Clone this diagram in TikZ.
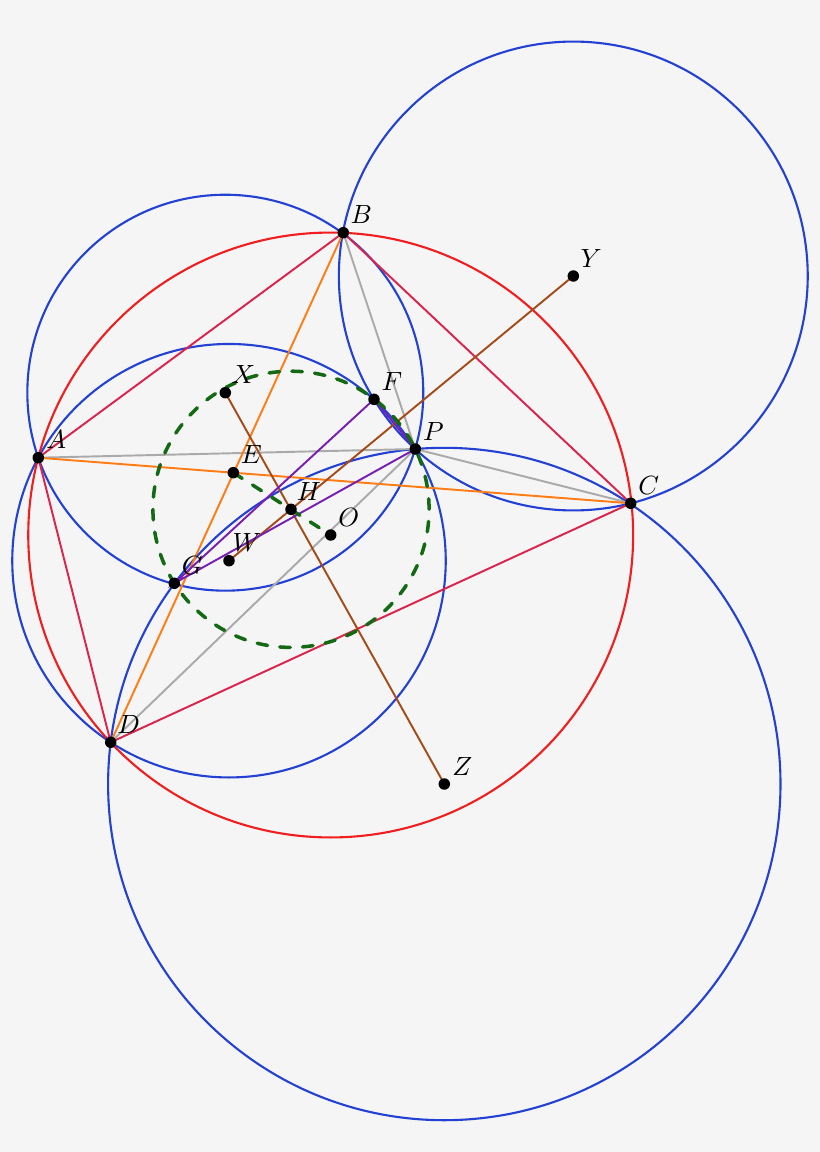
\documentclass[tikz,border=0pt]{standalone}
\usetikzlibrary{calc}
\definecolor{bg}{RGB}{245,245,245}
\definecolor{cblue}{RGB}{35,65,210}
\definecolor{cred}{RGB}{240,30,30}
\definecolor{ccrim}{RGB}{220,35,75}
\definecolor{corange}{RGB}{255,125,20}
\definecolor{cgray}{RGB}{170,170,170}
\definecolor{cpurple}{RGB}{120,30,180}
\definecolor{cbrown}{RGB}{165,75,25}
\definecolor{cgreen}{RGB}{20,105,20}
\tikzset{
  circ/.style={line width=1.2pt},
  seg/.style={line width=1.1pt},
  gdash/.style={cgreen,line width=2pt,line cap=round,dash pattern=on 6pt off 7pt},
  dotpt/.style={circle,fill=black,inner sep=0pt,minimum size=0.23cm},
  lbl/.style={scale=1.5, inner sep=0pt},
}
\begin{document}
\begin{tikzpicture}[x=0.02cm,y=-0.02cm]
\fill[bg] (0,0) rectangle (820,1152);
\useasboundingbox (0,0) rectangle (820,1152);
% points
\coordinate (A) at (38.3,457.7);
\coordinate (B) at (343.3,232.7);
\coordinate (C) at (630.7,503.3);
\coordinate (D) at (110.7,742.3);
\coordinate (E) at (233.3,472.7);
\coordinate (F) at (374,399.3);
\coordinate (G) at (174.3,583.3);
\coordinate (H) at (291,509.3);
\coordinate (O) at (330.7,535);
\coordinate (P) at (415.3,449);
\coordinate (W) at (229,560.7);
\coordinate (X) at (225.3,392.7);
\coordinate (Y) at (573.3,276);
\coordinate (Z) at (444.3,784);
% circles
\draw[cblue,circ] let \p1=($(A)-(X)$), \n1={veclen(\x1,\y1)} in (X) circle[radius=\n1];
\draw[cblue,circ] let \p1=($(C)-(Y)$), \n1={veclen(\x1,\y1)} in (Y) circle[radius=\n1];
\draw[cblue,circ] let \p1=($(D)-(Z)$), \n1={veclen(\x1,\y1)} in (Z) circle[radius=\n1];
\draw[cblue,circ] let \p1=($(D)-(W)$), \n1={veclen(\x1,\y1)} in (W) circle[radius=\n1];
\draw[cred,circ] let \p1=($(A)-(O)$), \n1={veclen(\x1,\y1)} in (O) circle[radius=\n1];
% lines
\draw[cgray,seg] (P) -- (A) (P) -- (B) (P) -- (C) (P) -- (D);
\draw[ccrim,seg] (A) -- (B) -- (C) -- (D) -- cycle;
\draw[corange,seg] (A) -- (C) (B) -- (D);
\draw[cbrown,seg] (X) -- (Z) (W) -- (Y);
\draw[cpurple,seg] (G) -- (F) -- (P) -- cycle;
\draw[gdash] let \p1=($(P)-(H)$), \n1={veclen(\x1,\y1)} in (H) circle[radius=\n1];
\draw[gdash] (E) -- (O);
% dots and labels
\foreach \p in {A,B,C,D,E,F,G,H,O,P,W,X,Y,Z}{
  \node[dotpt] (d\p) at (\p) {};
  \node[lbl] (l\p) at ($(\p)+(18,-18)$) {$\p$};
}
\end{tikzpicture}
\end{document}
